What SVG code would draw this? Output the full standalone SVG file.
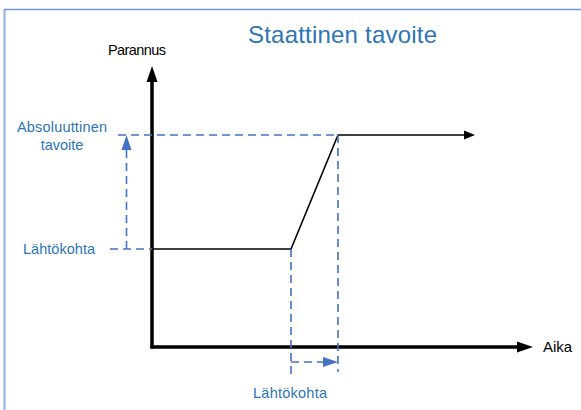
<svg xmlns="http://www.w3.org/2000/svg" width="581" height="410" viewBox="0 0 581 410">
<defs>
<style>
.lbl{font-family:"Liberation Sans","Open Sans",sans-serif;font-size:14.5px}
.blue{fill:#2e75b6}
.dash{stroke:#4472c4;stroke-width:1.6;stroke-dasharray:8,5;fill:none}
</style>
</defs>
<rect width="581" height="410" fill="#fff"/>
<g id="frame">
<line x1="4.5" y1="9" x2="4.5" y2="410" stroke="#8fb2e6" stroke-width="2"/>
<line x1="4" y1="9.5" x2="581" y2="9.5" stroke="#6f97d4" stroke-width="1.5"/>
</g>
<g id="title"><text class="lbl blue" x="248" y="43" style="font-size:24px" textLength="189">Staattinen tavoite</text></g>
<g id="axes">
<line x1="152" y1="348.5" x2="152" y2="80" stroke="#000" stroke-width="3.5"/>
<polygon points="152,66 146.5,82 157.5,82" fill="#000"/>
<line x1="150.5" y1="347" x2="518" y2="347" stroke="#000" stroke-width="3.5"/>
<polygon points="533,347 517,341.5 517,352.5" fill="#000"/>
<text class="lbl" x="108" y="55" textLength="58">Parannus</text>
<text class="lbl" x="543" y="352" style="font-size:15px">Aika</text>
</g>
<g id="curve">
<polyline points="153,249 291,249 338,135 464,135" fill="none" stroke="#000" stroke-width="1.6"/>
<polygon points="475,135 464,130.5 464,139.5" fill="#000"/>
</g>
<g id="connectors">
<line class="dash" x1="118" y1="135" x2="338" y2="135"/>
<line class="dash" x1="338" y1="135" x2="338" y2="372"/>
<line class="dash" x1="110" y1="249" x2="152" y2="249"/>
<line class="dash" x1="126.5" y1="249" x2="126.5" y2="150"/>
<polygon points="126.5,135 121.5,150 131.5,150" fill="#4472c4"/>
<line class="dash" x1="291" y1="249" x2="291" y2="377"/>
<line class="dash" x1="291" y1="362" x2="324" y2="362"/>
<polygon points="338,362 323,357 323,367" fill="#4472c4"/>
</g>
<g id="labels">
<text class="lbl blue" x="62" y="132" text-anchor="middle" textLength="90">Absoluuttinen</text>
<text class="lbl blue" x="62" y="150" text-anchor="middle">tavoite</text>
<text class="lbl blue" x="23" y="254" textLength="72">Lähtökohta</text>
<text class="lbl blue" x="253" y="398" textLength="74">Lähtökohta</text>
</g>
</svg>
